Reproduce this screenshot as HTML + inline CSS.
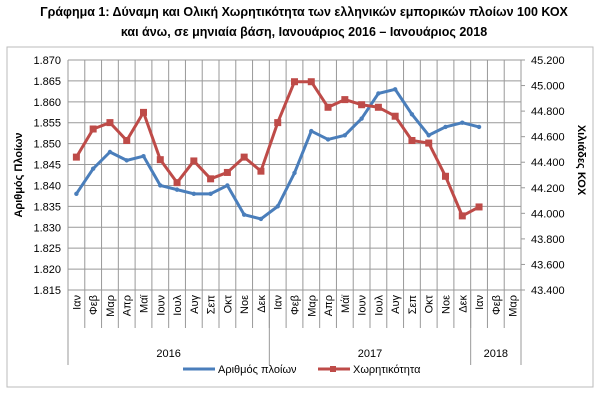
<!DOCTYPE html>
<html><head><meta charset="utf-8"><style>
body{margin:0;background:#fff;width:609px;height:411px;overflow:hidden;font-family:"Liberation Sans","DejaVu Sans",sans-serif}
</style></head><body>
<svg width="609" height="411" id="svg" font-family="Liberation Sans, DejaVu Sans, sans-serif">
<text x="304" y="16" text-anchor="middle" font-size="12.5" font-weight="bold">Γράφημα 1: Δύναμη και Ολική Χωρητικότητα των ελληνικών εμπορικών πλοίων 100 ΚΟΧ</text>
<text x="304" y="36" text-anchor="middle" font-size="12.5" font-weight="bold">και άνω, σε μηνιαία βάση, Ιανουάριος  2016 – Ιανουάριος  2018</text>
<rect x="7" y="47" width="586" height="340" fill="none" stroke="#bbb"/>
<g id="g"></g>
</svg>
<script>
const months=["Ιαν","Φεβ","Μαρ","Απρ","Μαϊ","Ιουν","Ιουλ","Αυγ","Σεπ","Οκτ","Νοε","Δεκ","Ιαν","Φεβ","Μαρ","Απρ","Μάϊ","Ιουν","Ιουλ","Αυγ","Σεπ","Οκτ","Νοε","Δεκ","Ιαν","Φεβ","Μαρ"];
const years=["2016","2017","2018"];
const yearSpans=[12,12,3];
const ships=[1.838,1.844,1.848,1.846,1.847,1.840,1.839,1.838,1.838,1.840,1.833,1.832,1.835,1.843,1.853,1.851,1.852,1.856,1.862,1.863,1.857,1.852,1.854,1.855,1.854];
const tonnage=[44.44,44.66,44.71,44.57,44.79,44.42,44.24,44.41,44.27,44.32,44.44,44.33,44.71,45.03,45.03,44.83,44.89,44.85,44.83,44.76,44.57,44.55,44.29,43.98,44.05];
const leftTicks=["1.815","1.820","1.825","1.830","1.835","1.840","1.845","1.850","1.855","1.860","1.865","1.870"];
const rightTicks=["43.400","43.600","43.800","44.000","44.200","44.400","44.600","44.800","45.000","45.200"];
const L=68,R=521,T=60,B=290,NS="http://www.w3.org/2000/svg";
const g=document.getElementById('g');
const cw=(R-L)/months.length;
const xC=i=>L+cw*(i+0.5);
const yL=v=>B-(v-1.815)/(1.870-1.815)*(B-T);
const yR=v=>B-(v-43.4)/(45.2-43.4)*(B-T);
function el(t,a,txt){const e=document.createElementNS(NS,t);for(const k in a)e.setAttribute(k,a[k]);if(txt!=null)e.textContent=txt;g.appendChild(e);return e;}
leftTicks.forEach((t,i)=>{const y=yL(parseFloat(t));
 const l=el('line',{x1:L,x2:R,y1:y,y2:y,stroke:'#999','stroke-width':1});
 
 
 const tx=el('text',{x:L-7,y:y+4,'text-anchor':'end','font-size':11},t);
 
 });
rightTicks.forEach(t=>{const y=yR(parseFloat(t));
 const k=el('line',{x1:R,x2:R+4,y1:y,y2:y,stroke:'#999'});
 
 
 const tx=el('text',{x:R+10,y:y+4,'font-size':11},t);
 
 });
for(let i=0;i<=months.length;i++){const x=L+cw*i;
 const l=el('line',{x1:x,x2:x,y1:T,y2:B+38,stroke:'#999'});
 
 }
months.forEach((m,i)=>{const x=xC(i)+4,y=B+5;
 const t=el('text',{x:x,y:y,'font-size':11,'text-anchor':'end',transform:`rotate(-90 ${x} ${y})`},m);
 
 });
let s=0;years.forEach((yr,i)=>{const x0=L+cw*s,x1=L+cw*(s+yearSpans[i]);
 const l=el('line',{x1:x0,x2:x0,y1:B,y2:B+75,stroke:'#999'});
 
 
 const t=el('text',{x:(x0+x1)/2,y:B+67,'font-size':11,'text-anchor':'middle'},yr);
 
 
 s+=yearSpans[i];
 if(i==years.length-1){const l2=el('line',{x1:x1,x2:x1,y1:B,y2:B+75,stroke:'#999'});
 
 }});
el('line',{x1:R,x2:R,y1:T,y2:B,stroke:'#999'});
const lp=el('polyline',{points:ships.map((v,i)=>xC(i)+','+yL(v)).join(' '),fill:'none',stroke:'#4a7ebb','stroke-width':3,'stroke-linejoin':'round'});


ships.forEach((v,i)=>{const d=el('circle',{cx:xC(i),cy:yL(v),r:2.2,fill:'#4a7ebb'});
 
 });
const rp=el('polyline',{points:tonnage.map((v,i)=>xC(i)+','+yR(v)).join(' '),fill:'none',stroke:'#be4b48','stroke-width':3,'stroke-linejoin':'round'});


tonnage.forEach((v,i)=>{const d=el('rect',{x:xC(i)-3.5,y:yR(v)-3.5,width:7,height:7,fill:'#be4b48'});
 
 });
const a1=el('text',{x:22,y:175,'font-size':11,'font-weight':'bold','text-anchor':'middle',transform:'rotate(-90 22 175)'},'Αριθμός Πλοίων');


const a2=el('text',{x:578,y:160,'font-size':11,'font-weight':'bold','text-anchor':'middle',transform:'rotate(90 578 160)'},'Χιλιάδες ΚΟΧ');


const lg1=el('line',{x1:183,x2:215,y1:369,y2:369,stroke:'#4a7ebb','stroke-width':3});


const lt1=el('text',{x:218,y:373,'font-size':11},'Αριθμός πλοίων');


const lg2=el('line',{x1:318,x2:350,y1:369,y2:369,stroke:'#be4b48','stroke-width':3});


el('rect',{x:330,y:366,width:6,height:6,fill:'#be4b48'});
const lt2=el('text',{x:353,y:373,'font-size':11},'Χωρητικότητα');


</script>
</body></html>
